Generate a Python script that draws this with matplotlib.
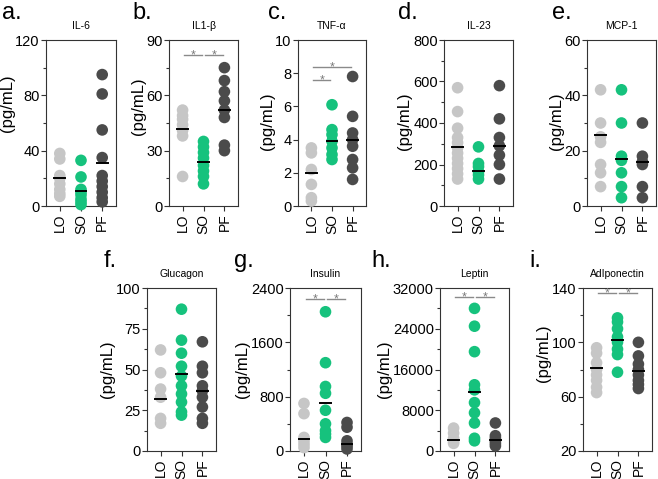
import matplotlib
matplotlib.use('Agg')
import matplotlib.pyplot as plt
from matplotlib.ticker import FixedLocator

plt.rcParams['font.family'] = ['Liberation Sans', 'DejaVu Sans']

groups = ['LO', 'SO', 'PF']
colors = ['#c6c6c6', '#16c27d', '#4b4b4b']

# ---- data ----
il6_lo = [38, 34, 22, 20, 16, 12, 9, 7]
il6_so = [33, 21, 12, 10, 8, 5, 3, 1]
il6_pf = [95, 81, 55, 35, 22, 18, 14, 10, 6, 3]
il6_mean = [20.5, 11, 31]

il1b_lo = [52, 49, 47, 44, 41, 38, 16]
il1b_so = [35, 32, 29, 26, 22, 19, 16, 12]
il1b_pf = [75, 68, 62, 57, 52, 48, 33, 30]
il1b_mean = [42, 24, 52]

tnf_lo = [3.5, 3.2, 2.2, 1.3, 0.5, 0.3]
tnf_so = [6.1, 4.6, 4.3, 3.9, 3.5, 3.1, 2.8]
tnf_pf = [7.8, 5.4, 4.4, 4.0, 3.6, 2.8, 2.3, 1.6]
tnf_mean = [2.0, 3.9, 4.0]

il23_lo = [570, 455, 375, 330, 305, 280, 255, 230, 205, 180, 155, 130]
il23_so = [285, 205, 190, 165, 150, 130]
il23_pf = [580, 420, 330, 290, 245, 200, 130]
il23_mean = [285, 170, 287]

mcp1_lo = [42, 30, 25, 23, 15, 12, 7]
mcp1_so = [42, 30, 18, 16.5, 12, 7, 3]
mcp1_pf = [30, 18, 16, 15, 7, 3]
mcp1_mean = [25.5, 17, 15.8]

gluc_lo = [62, 48, 38, 33, 20, 17]
gluc_so = [87, 68, 60, 52, 46, 40, 35, 30, 24, 22]
gluc_pf = [67, 52, 48, 40, 37, 33, 27, 20, 17]
gluc_mean = [32, 47, 37]

ins_lo = [700, 550, 200, 150, 100, 50]
ins_so = [2050, 1300, 950, 850, 600, 400, 300, 250, 200]
ins_pf = [420, 350, 150, 100, 70, 30]
ins_mean = [180, 700, 100]

lep_lo = [4500, 3500, 2500, 1800, 1500]
lep_so = [28000, 24500, 19500, 13000, 12000, 9500, 7500, 5500, 2500, 2000]
lep_pf = [5500, 3000, 2500, 2000, 1500, 1000]
lep_mean = [2200, 11500, 2200]

adi_lo = [96, 92, 85, 80, 76, 72, 67, 63]
adi_so = [118, 115, 110, 104, 100, 95, 91, 78]
adi_pf = [100, 90, 84, 80, 76, 72, 69, 66]
adi_mean = [81, 102, 79]

# ---- figure ----
W, H = 658, 479
fig = plt.figure(figsize=(W / 100, H / 100), dpi=100)


def px_axes(x0, y_top, w, y_bot):
    return fig.add_axes([x0 / W, 1 - y_bot / H, w / W, (y_bot - y_top) / H])


panels = [
    dict(letter='a.', title='IL-6', data=[il6_lo, il6_so, il6_pf], mean=il6_mean,
         ylim=(0, 120), major=40, minor=20, sig=[], rect=(46, 40, 70, 206), lpos=(2, 19),
         laby=0.62),
    dict(letter='b.', title='IL1-\u03b2', data=[il1b_lo, il1b_so, il1b_pf], mean=il1b_mean,
         ylim=(0, 90), major=30, minor=15, sig=[(0, 1, 82), (1, 2, 82)],
         rect=(169, 40, 69, 206), lpos=(132, 19), laby=0.6),
    dict(letter='c.', title='TNF-\u03b1', data=[tnf_lo, tnf_so, tnf_pf], mean=tnf_mean,
         ylim=(0, 10), major=2, minor=None, sig=[(0, 1, 7.6), (0, 2, 8.4)],
         rect=(298, 40, 68, 206), lpos=(268, 19), laby=0.51),
    dict(letter='d.', title='IL-23', data=[il23_lo, il23_so, il23_pf], mean=il23_mean,
         ylim=(0, 800), major=200, minor=100, sig=[], rect=(444, 40, 69, 206), lpos=(398, 19),
         laby=0.51),
    dict(letter='e.', title='MCP-1', data=[mcp1_lo, mcp1_so, mcp1_pf], mean=mcp1_mean,
         ylim=(0, 60), major=20, minor=10, sig=[], rect=(587, 40, 69, 206), lpos=(552, 19),
         laby=0.51),
    dict(letter='f.', title='Glucagon', data=[gluc_lo, gluc_so, gluc_pf], mean=gluc_mean,
         ylim=(0, 100), major=25, minor=12.5, sig=[], rect=(147, 288, 69, 451), lpos=(104, 267),
         laby=0.5),
    dict(letter='g.', title='Insulin', data=[ins_lo, ins_so, ins_pf], mean=ins_mean,
         ylim=(0, 2400), major=800, minor=400, sig=[(0, 1, 2240), (1, 2, 2240)],
         rect=(290, 288, 71, 451), lpos=(234, 267), laby=0.5),
    dict(letter='h.', title='Leptin', data=[lep_lo, lep_so, lep_pf], mean=lep_mean,
         ylim=(0, 32000), major=8000, minor=4000, sig=[(0, 1, 30200), (1, 2, 30200)],
         rect=(440, 288, 69, 451), lpos=(371, 267), laby=0.5),
    dict(letter='i.', title='AdIponectin', data=[adi_lo, adi_so, adi_pf], mean=adi_mean,
         ylim=(20, 140), major=40, minor=20, sig=[(0, 1, 136), (1, 2, 136)],
         rect=(583, 288, 69, 451), lpos=(529, 267), laby=0.6),
]

spine_c = '#333333'
for p in panels:
    x0, yt, w, yb = p['rect']
    ax = px_axes(x0, yt, w, yb)
    for i, vals in enumerate(p['data']):
        ax.scatter([i] * len(vals), vals, s=70, color=colors[i], edgecolors='none',
                   zorder=3, clip_on=False)
        ax.plot([i - 0.25, i + 0.25], [p['mean'][i]] * 2, color='black', lw=1.4, zorder=4)
    ax.set_xlim(-0.65, 2.65)
    lo, hi = p['ylim']
    ax.set_ylim(lo, hi)
    nmaj = int(round((hi - lo) / p['major']))
    ax.yaxis.set_major_locator(FixedLocator([lo + k * p['major'] for k in range(nmaj + 1)]))
    if p['minor']:
        nmin = int(round((hi - lo) / p['minor']))
        ax.yaxis.set_minor_locator(FixedLocator([lo + k * p['minor'] for k in range(nmin + 1)]))
    ax.set_xticks(range(3))
    ax.set_xticklabels(groups, rotation=90, fontsize=10)
    ax.tick_params(axis='y', labelsize=10.5, length=3.5, width=0.8, color=spine_c, pad=1)
    ax.tick_params(axis='y', which='minor', length=2.2, width=0.8, color=spine_c)
    ax.tick_params(axis='x', length=3.5, width=0.8, color=spine_c, pad=2)
    for s in ax.spines.values():
        s.set_linewidth(0.8)
        s.set_color(spine_c)
    ax.set_ylabel('(pg/mL)', fontsize=12, labelpad=0.5)
    ax.yaxis.label.set_y(p['laby'])
    ax.set_title(p['title'], fontsize=7.5, pad=8)
    for (i, j, y) in p['sig']:
        ax.plot([i + 0.08, j - 0.08], [y, y], color='#8a8a8a', lw=1.0, zorder=2)
        ax.annotate('*', xy=((i + j) / 2, y), xytext=(0, -2.5), textcoords='offset points',
                    ha='center', va='baseline', fontsize=9, color='#7a7a7a')
    lx, ly = p['lpos']
    fig.text(lx / W, 1 - ly / H, p['letter'], fontsize=17, ha='left', va='baseline')

fig.savefig('out.png', dpi=100)
